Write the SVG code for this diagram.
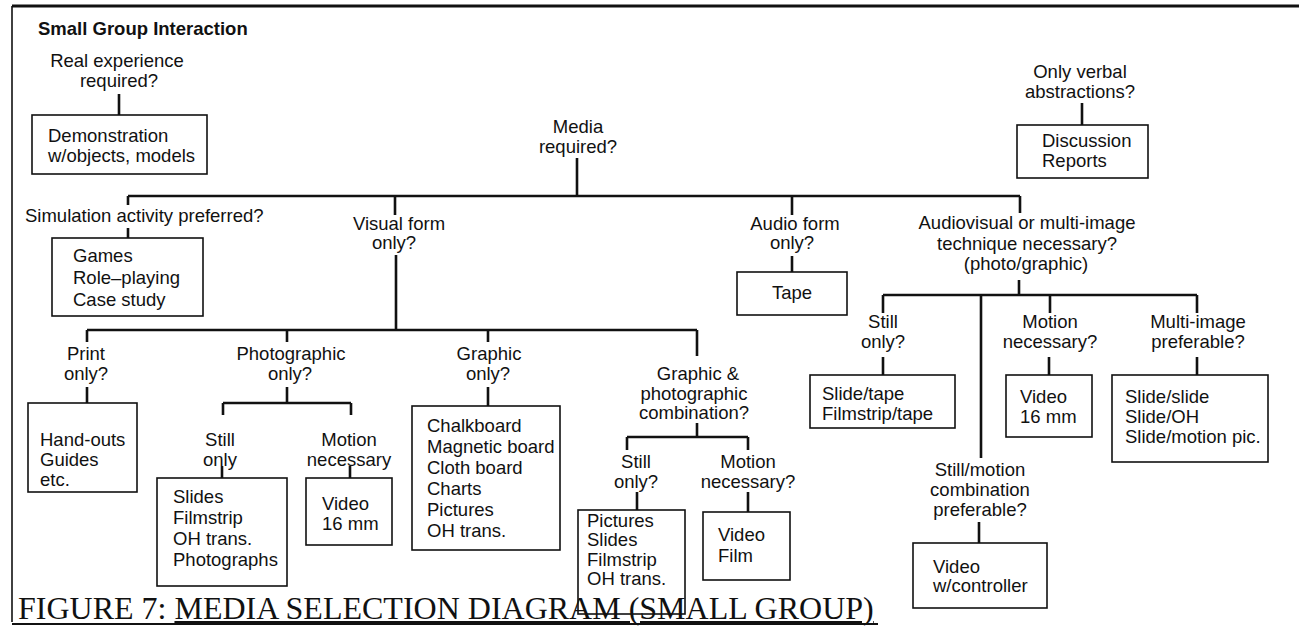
<svg xmlns="http://www.w3.org/2000/svg" width="1299" height="626" viewBox="0 0 1299 626">
<style>
.t{font-family:"Liberation Sans",Arial,sans-serif;font-size:18.5px;fill:#111}
.c{text-anchor:middle}
.b{fill:none;stroke:#111;stroke-width:1.6}
.l{stroke:#111;stroke-width:2.6;fill:none}
.f{stroke:#111;fill:none}
</style>
<rect width="1299" height="626" fill="#fff"/>
<g id="frame">
<line class="f" x1="12" y1="6" x2="1299" y2="6" stroke-width="3"/>
<line class="f" x1="12" y1="6" x2="12" y2="622" stroke-width="1.6"/>
</g>
<g id="title"><text class="t" x="38" y="35" font-size="21" font-weight="bold">Small Group Interaction</text></g>
<g id="connectors">
<path class="l" d="M119,94V115 M577,158V196 M128,196H1020 M128,196V205 M128,228V238 M395,196V215 M396,255V330 M792,196V215 M792,256V272 M1020,196V213 M1019,280V295 M883,295H1197 M883,295V313 M981,295V458 M1050,295V313 M1197,295V313 M883,357V375 M1049,357V375 M1197,357V375 M979,522V543 M1082,103V125 M87,330H697 M87,330V342 M87,387V403 M287,330V342 M287,387V403 M223,403H351 M223,403V415 M351,403V415 M222,466V478 M350,466V478 M488,330V342 M488,387V406 M697,330V356 M697,423V437 M627,437H748 M627,437V450 M748,437V450 M637,492V510 M748,492V512"/>
</g>
<g id="n-real"><text class="t c" x="117" y="67">Real experience</text><text class="t c" x="119" y="87">required?</text></g>
<g id="n-demo"><rect class="b" x="32" y="115" width="175" height="59"/><text class="t" x="48" y="142">Demonstration</text><text class="t" x="48" y="162">w/objects, models</text></g>
<g id="n-media"><text class="t c" x="578" y="133">Media</text><text class="t c" x="578" y="153">required?</text></g>
<g id="n-verbal"><text class="t c" x="1080" y="78">Only verbal</text><text class="t c" x="1080" y="98">abstractions?</text></g>
<g id="n-disc"><rect class="b" x="1017" y="125" width="131" height="53"/><text class="t" x="1042" y="147">Discussion</text><text class="t" x="1042" y="167">Reports</text></g>
<g id="n-sim"><text class="t" x="25" y="222">Simulation activity preferred?</text></g>
<g id="n-games"><rect class="b" x="52" y="238" width="151" height="78"/><text class="t" x="73" y="262">Games</text><text class="t" x="73" y="284">Role–playing</text><text class="t" x="73" y="306">Case study</text></g>
<g id="n-visual"><text class="t c" x="399" y="230">Visual form</text><text class="t c" x="394" y="249">only?</text></g>
<g id="n-audio"><text class="t c" x="795" y="230">Audio form</text><text class="t c" x="792" y="249">only?</text></g>
<g id="n-tape"><rect class="b" x="737" y="272" width="110" height="43"/><text class="t c" x="792" y="299">Tape</text></g>
<g id="n-av"><text class="t c" x="1027" y="229">Audiovisual or multi-image</text><text class="t c" x="1027" y="250">technique necessary?</text><text class="t c" x="1026" y="270">(photo/graphic)</text></g>
<g id="n-avstill"><text class="t c" x="883" y="328">Still</text><text class="t c" x="883" y="348">only?</text></g>
<g id="n-slidetape"><rect class="b" x="810" y="375" width="145" height="53"/><text class="t" x="822" y="400">Slide/tape</text><text class="t" x="822" y="420">Filmstrip/tape</text></g>
<g id="n-avmotion"><text class="t c" x="1050" y="328">Motion</text><text class="t c" x="1050" y="348">necessary?</text></g>
<g id="n-video1"><rect class="b" x="1006" y="375" width="86" height="62"/><text class="t" x="1020" y="403">Video</text><text class="t" x="1020" y="423">16 mm</text></g>
<g id="n-multi"><text class="t c" x="1198" y="328">Multi-image</text><text class="t c" x="1198" y="348">preferable?</text></g>
<g id="n-multibox"><rect class="b" x="1112" y="375" width="156" height="87"/><text class="t" x="1125" y="403">Slide/slide</text><text class="t" x="1125" y="423">Slide/OH</text><text class="t" x="1125" y="443">Slide/motion pic.</text></g>
<g id="n-stillmotion"><text class="t c" x="980" y="476">Still/motion</text><text class="t c" x="980" y="496">combination</text><text class="t c" x="980" y="516">preferable?</text></g>
<g id="n-vidctrl"><rect class="b" x="913" y="543" width="134" height="65"/><text class="t" x="933" y="573">Video</text><text class="t" x="933" y="592">w/controller</text></g>
<g id="n-print"><text class="t c" x="86" y="360">Print</text><text class="t c" x="86" y="380">only?</text></g>
<g id="n-handouts"><rect class="b" x="28" y="403" width="109" height="89"/><text class="t" x="40" y="446">Hand-outs</text><text class="t" x="40" y="466">Guides</text><text class="t" x="40" y="486">etc.</text></g>
<g id="n-photo"><text class="t c" x="291" y="360">Photographic</text><text class="t c" x="290" y="380">only?</text></g>
<g id="n-pstill"><text class="t c" x="220" y="446">Still</text><text class="t c" x="220" y="466">only</text></g>
<g id="n-slides"><rect class="b" x="157" y="478" width="130" height="108"/><text class="t" x="173" y="503">Slides</text><text class="t" x="173" y="524">Filmstrip</text><text class="t" x="173" y="545">OH trans.</text><text class="t" x="173" y="566">Photographs</text></g>
<g id="n-pmotion"><text class="t c" x="349" y="446">Motion</text><text class="t c" x="349" y="466">necessary</text></g>
<g id="n-video2"><rect class="b" x="306" y="478" width="86" height="67"/><text class="t" x="322" y="510">Video</text><text class="t" x="322" y="530">16 mm</text></g>
<g id="n-graphic"><text class="t c" x="489" y="360">Graphic</text><text class="t c" x="488" y="380">only?</text></g>
<g id="n-chalk"><rect class="b" x="412" y="406" width="148" height="144"/><text class="t" x="427" y="432">Chalkboard</text><text class="t" x="427" y="453">Magnetic board</text><text class="t" x="427" y="474">Cloth board</text><text class="t" x="427" y="495">Charts</text><text class="t" x="427" y="516">Pictures</text><text class="t" x="427" y="537">OH trans.</text></g>
<g id="n-gp"><text class="t c" x="698" y="380">Graphic &amp;</text><text class="t c" x="694" y="400">photographic</text><text class="t c" x="694" y="419">combination?</text></g>
<g id="n-gpstill"><text class="t c" x="636" y="468">Still</text><text class="t c" x="636" y="488">only?</text></g>
<g id="n-pictures"><rect class="b" x="578" y="510" width="107" height="104"/><text class="t" x="587" y="527">Pictures</text><text class="t" x="587" y="546">Slides</text><text class="t" x="587" y="566">Filmstrip</text><text class="t" x="587" y="585">OH trans.</text></g>
<g id="n-gpmotion"><text class="t c" x="748" y="468">Motion</text><text class="t c" x="748" y="488">necessary?</text></g>
<g id="n-videofilm"><rect class="b" x="703" y="512" width="87" height="68"/><text class="t" x="718" y="541">Video</text><text class="t" x="718" y="562">Film</text></g>
<g id="caption"><text x="18" y="619" font-family="'Liberation Serif','Times New Roman',serif" font-size="32" fill="#111">FIGURE 7: <tspan text-decoration="underline">MEDIA SELECTION DIAGRAM (SMALL GROUP)</tspan></text><line class="f" x1="12" y1="624" x2="878" y2="624" stroke-width="2"/></g>
</svg>
